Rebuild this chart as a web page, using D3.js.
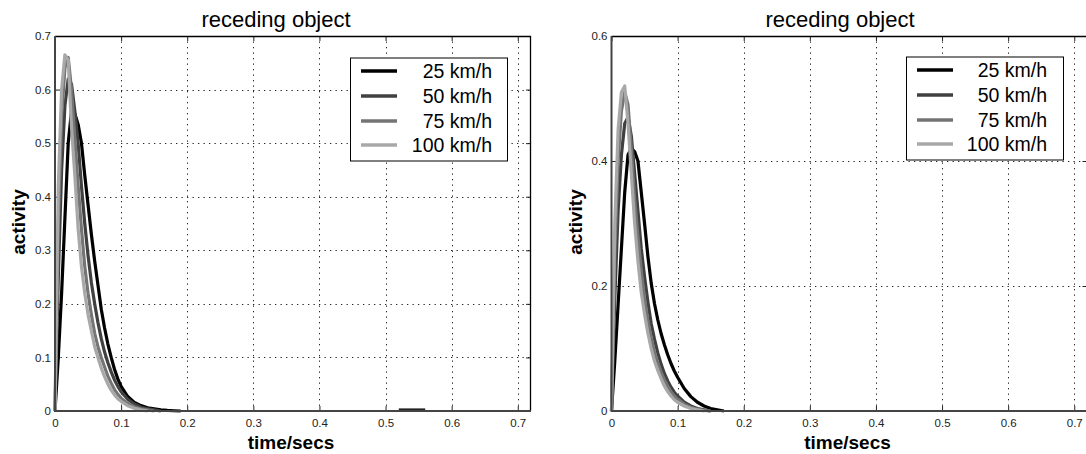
<!DOCTYPE html>
<html><head><meta charset="utf-8">
<script src="https://cdn.jsdelivr.net/npm/d3@7"></script>
<style>
html,body{margin:0;padding:0;background:#fff;}
svg{display:block;font-family:"Liberation Sans",Arial,Helvetica,sans-serif;}
</style></head>
<body>
<svg id="chart" width="1086" height="454"></svg>
<script>
// ---- data ----
const times = [0,0.005,0.01,0.015,0.02,0.025,0.03,0.035,0.04,0.045,0.05,0.055,0.06,0.065,0.07,0.075,0.08,0.085,0.09,0.095,0.1,0.11,0.12,0.13,0.14,0.15,0.16,0.17,0.18,0.19];
const seriesNames = ["25 km/h","50 km/h","75 km/h","100 km/h"];
const seriesColors = ["#000000","#404040","#747474","#a8a8a8"];

const left25  = [0,0.1,0.22,0.36,0.5,0.56,0.555,0.535,0.5,0.44,0.385,0.33,0.28,0.235,0.19,0.155,0.125,0.1,0.078,0.06,0.046,0.027,0.016,0.01,0.006,0.004,0.002,0.001,0.0005,0];
const left50  = [0,0.25,0.45,0.57,0.62,0.61,0.56,0.5,0.42,0.35,0.29,0.24,0.2,0.165,0.135,0.11,0.09,0.073,0.058,0.046,0.036,0.022,0.013,0.007,0.004,0.002,0,null,null,null];
const left75  = [0,0.35,0.55,0.64,0.66,0.6,0.51,0.42,0.34,0.27,0.22,0.18,0.145,0.12,0.1,0.082,0.065,0.052,0.04,0.031,0.024,0.014,0.008,0.004,0.002,0,null,null,null,null];
const left100 = [0,0.42,0.6,0.665,0.655,0.53,0.44,0.34,0.27,0.22,0.18,0.15,0.12,0.1,0.08,0.064,0.05,0.039,0.03,0.023,0.018,0.01,0.005,0.002,0,null,null,null,null,null];
const leftBlipTimes = [0.52,0.56];
const leftBlipValues = [0.003,0.003];

const right25  = [0,0.08,0.17,0.26,0.35,0.41,0.42,0.415,0.4,0.35,0.3,0.248,0.205,0.172,0.146,0.124,0.106,0.09,0.076,0.064,0.054,0.036,0.023,0.014,0.008,0.004,0.002,0,null,null];
const right50  = [0,0.18,0.32,0.41,0.46,0.47,0.44,0.38,0.32,0.26,0.215,0.175,0.14,0.115,0.093,0.075,0.06,0.048,0.038,0.03,0.024,0.014,0.008,0.004,0.002,0,null,null,null,null];
const right75  = [0,0.25,0.4,0.48,0.51,0.49,0.42,0.34,0.28,0.225,0.18,0.145,0.118,0.095,0.077,0.062,0.05,0.04,0.031,0.024,0.019,0.011,0.006,0.003,0.001,0,null,null,null,null];
const right100 = [0,0.3,0.45,0.51,0.52,0.46,0.38,0.3,0.24,0.19,0.155,0.125,0.1,0.08,0.065,0.052,0.04,0.031,0.024,0.018,0.014,0.008,0.004,0.002,0,null,null,null,null,null];

const xTickValues = [0,0.1,0.2,0.3,0.4,0.5,0.6,0.7];
const xTickLabels = ["0","0.1","0.2","0.3","0.4","0.5","0.6","0.7"];
const leftYTickValues = [0,0.1,0.2,0.3,0.4,0.5,0.6,0.7];
const leftYTickLabels = ["0","0.1","0.2","0.3","0.4","0.5","0.6","0.7"];
const rightYTickValues = [0,0.2,0.4,0.6];
const rightYTickLabels = ["0","0.2","0.4","0.6"];
const titleText = "receding object";
const xLabelText = "time/secs";
const yLabelText = "activity";

// ---- drawing ----
const svg = d3.select("#chart");
svg.append("rect").attr("width",1086).attr("height",454).attr("fill","#fff");

function panel(cfg){
  const g = svg.append("g");
  const x = d3.scaleLinear().domain([0,0.72]).range([cfg.x0, cfg.x0+476]);
  const y = d3.scaleLinear().domain([0,cfg.ymax]).range([411,36]);
  const [X0,X1] = x.range(), [Y0,Y1] = y.range();

  // grid
  const grid = g.append("g").attr("stroke","#222").attr("stroke-width",1).attr("stroke-dasharray","1.3,4.2");
  grid.selectAll(".gx").data(xTickValues.filter(v=>v>0)).join("line")
    .attr("x1",d=>Math.round(x(d))+0.5).attr("x2",d=>Math.round(x(d))+0.5).attr("y1",Y1).attr("y2",Y0);
  grid.selectAll(".gy").data(cfg.yTicks.filter(v=>v>0 && v<cfg.ymax)).join("line")
    .attr("y1",d=>Math.round(y(d))+0.5).attr("y2",d=>Math.round(y(d))+0.5).attr("x1",X0).attr("x2",X1);

  // ticks (inside) using d3 axes
  const axB = d3.axisBottom(x).tickValues(xTickValues).tickSizeInner(-5).tickSizeOuter(0).tickFormat((d,i)=>xTickLabels[i]);
  const axT = d3.axisTop(x).tickValues(xTickValues).tickSizeInner(-5).tickSizeOuter(0).tickFormat("");
  const axL = d3.axisLeft(y).tickValues(cfg.yTicks).tickSizeInner(-5).tickSizeOuter(0).tickFormat((d,i)=>cfg.yLabels[i]);
  const axR = d3.axisRight(y).tickValues(cfg.yTicks).tickSizeInner(-5).tickSizeOuter(0).tickFormat("");
  function style(sel){
    sel.select(".domain").remove();
    sel.selectAll(".tick line").attr("stroke","#222");
    sel.selectAll(".tick text").attr("fill","#222").style("font-size","11.5px").style("font-family","'Liberation Sans',Arial,sans-serif");
  }
  g.append("g").attr("transform",`translate(0,${Y0})`).call(axB).call(style)
    .selectAll(".tick text").attr("dy",null).attr("y",16);
  g.append("g").attr("transform",`translate(0,${Y1})`).call(axT).call(style);
  g.append("g").attr("transform",`translate(${X0},0)`).call(axL).call(style)
    .selectAll(".tick text").attr("x",-4);
  g.append("g").attr("transform",`translate(${X1},0)`).call(axR).call(style);

  // box
  g.append("line").attr("x1",X0).attr("x2",X1).attr("y1",Y1+0.5).attr("y2",Y1+0.5).attr("stroke","#000").attr("stroke-width",1.3);
  g.append("line").attr("x1",X1-0.5).attr("x2",X1-0.5).attr("y1",Y1).attr("y2",Y0).attr("stroke","#000").attr("stroke-width",1.3);

  // series
  const line = d3.line().defined(d=>d.v!==null).x(d=>x(d.t)).y(d=>y(d.v));
  cfg.series.forEach((vals,i)=>{
    const pts = times.map((t,k)=>({t, v: vals[k]}));
    g.append("path").attr("d",line(pts)).attr("fill","none")
      .attr("stroke",seriesColors[i]).attr("stroke-width",3.2).attr("stroke-linejoin","round");
  });
  if(cfg.blipT){
    const pts = cfg.blipT.map((t,k)=>({t, v: cfg.blipV[k]}));
    g.append("path").attr("d",line(pts)).attr("fill","none").attr("stroke","#222").attr("stroke-width",2);
  }

  // axis lines (left, bottom)
  g.append("line").attr("x1",X0).attr("x2",X1).attr("y1",Y0).attr("y2",Y0).attr("stroke","#444").attr("stroke-width",2);
  g.append("line").attr("x1",X0).attr("x2",X0).attr("y1",Y1).attr("y2",Y0+1).attr("stroke","#444").attr("stroke-width",2);

  // legend
  const L = g.append("g").attr("transform",`translate(${cfg.legX},${cfg.legY})`);
  L.append("rect").attr("x",0.5).attr("y",0.5).attr("width",157).attr("height",103)
    .attr("fill","#fff").attr("stroke","#000").attr("stroke-width",1);
  const rowY = [13.5,38.5,63.5,87.5];
  seriesNames.forEach((n,i)=>{
    L.append("line").attr("x1",11).attr("x2",47).attr("y1",rowY[i]).attr("y2",rowY[i])
      .attr("stroke",seriesColors[i]).attr("stroke-width",3.5);
    L.append("text").attr("x",cfg.legTextX).attr("y",rowY[i]+7).attr("text-anchor","end")
      .style("font-size","19.5px").attr("fill","#000").text(n);
  });

  // labels
  g.append("text").attr("x",cfg.titleX).attr("y",27).attr("text-anchor","middle")
    .style("font-size","22px").attr("fill","#000").text(titleText);
  g.append("text").attr("x",X0+236).attr("y",449).attr("text-anchor","middle")
    .style("font-size","19px").style("font-weight","bold").attr("fill","#000").text(xLabelText);
  g.append("text").attr("transform",`translate(${X0-30},222) rotate(-90)`).attr("text-anchor","middle")
    .style("font-size","19px").style("font-weight","bold").attr("fill","#000").text(yLabelText);
}

panel({x0:55, ymax:0.7, yTicks:leftYTickValues, yLabels:leftYTickLabels,
  series:[left25,left50,left75,left100], blipT:leftBlipTimes, blipV:leftBlipValues,
  legX:350, legY:57.5, legTextX:142, titleX:276});
panel({x0:611.5, ymax:0.6, yTicks:rightYTickValues, yLabels:rightYTickLabels,
  series:[right25,right50,right75,right100],
  legX:906, legY:56.5, legTextX:141, titleX:840});
</script>
</body></html>
